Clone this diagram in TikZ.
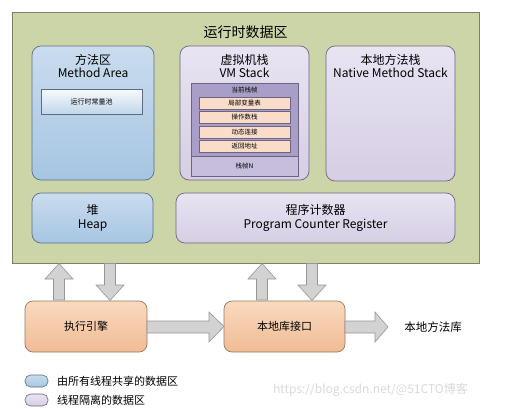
\documentclass[tikz,border=0pt]{standalone}
\usepackage{fontspec}
\setmainfont{Noto Sans CJK SC}
\definecolor{gbg}{RGB}{204,213,168}
\definecolor{gbd}{RGB}{120,130,100}
\definecolor{bluet}{RGB}{202,220,238}
\definecolor{blueb}{RGB}{166,197,226}
\definecolor{blued}{RGB}{90,110,140}
\definecolor{purt}{RGB}{232,228,242}
\definecolor{purb}{RGB}{214,206,228}
\definecolor{purd}{RGB}{110,100,130}
\definecolor{frame}{RGB}{168,158,200}
\definecolor{framel}{RGB}{198,190,220}
\definecolor{itemf}{RGB}{250,221,200}
\definecolor{oranget}{RGB}{250,218,192}
\definecolor{orangeb}{RGB}{240,188,148}
\definecolor{oranged}{RGB}{150,120,100}
\definecolor{arrf}{RGB}{210,210,210}
\definecolor{arrd}{RGB}{150,150,150}
\begin{document}
\begin{tikzpicture}[x=1pt,y=-1pt,
  every node/.style={inner sep=0pt,outer sep=0pt},
  sharedbox/.style={draw=blued,line width=0.7pt,rounded corners=9pt,top color=bluet,bottom color=blueb,anchor=north west},
  privbox/.style={draw=purd,line width=0.7pt,rounded corners=9pt,top color=purt,bottom color=purb,anchor=north west},
  enginebox/.style={draw=oranged,line width=0.7pt,rounded corners=8pt,top color=oranget,bottom color=orangeb,anchor=north west},
  itembox/.style={draw=purd,line width=0.5pt,fill=itemf,anchor=north west,minimum width=91pt,minimum height=12pt,font=\fontsize{6.5}{7}\selectfont},
  head/.style={align=center,font=\fontsize{12}{13.5}\selectfont},
  barrow/.style={draw=arrd,fill=arrf,line width=0.6pt,line join=miter}]
\useasboundingbox (0,0) rectangle (529,408);
% green runtime area
\node[draw=gbd,fill=gbg,line width=0.7pt,anchor=north west,minimum width=467pt,minimum height=251pt] (rt) at (12,12) {};
\node[font=\fontsize{14}{15}\selectfont] (rtt) at (245.5,32) {运行时数据区};
% method area
\node[sharedbox,minimum width=122pt,minimum height=134pt] (ma) at (32,46) {};
\node[head] (mat) at (93,66) {方法区\\Method Area};
\node[draw=blued,line width=0.6pt,top color=white!85!bluet,bottom color=blueb!70!white,anchor=north west,minimum width=101pt,minimum height=25pt] (pool) at (41,89) {};
\node[font=\fontsize{7}{8}\selectfont] at (pool.center) {运行时常量池};
% VM stack
\node[privbox,minimum width=129pt,minimum height=134pt] (vm) at (180,46) {};
\node[head] (vmt) at (244.5,66) {虚拟机栈\\VM Stack};
\node[draw=purd,line width=0.6pt,fill=framel,anchor=north west,minimum width=107pt,minimum height=93pt] (fr) at (191,83) {};
\fill[frame] (191.3,83.3) rectangle (297.7,156);
\draw[purd,line width=0.6pt] (191,156) -- (298,156);
\draw[purd,line width=0.6pt] (191,83) rectangle (298,176);
\node[font=\fontsize{6.5}{7}\selectfont] (cur) at (244.5,90.5) {当前栈帧};
\node[itembox] (i1) at (199,97) {局部变量表};
\node[itembox] (i2) at (199,111.5) {操作数栈};
\node[itembox] (i3) at (199,126) {动态连接};
\node[itembox] (i4) at (199,140.5) {返回地址};
\node[font=\fontsize{6.5}{7}\selectfont] (sn) at (244.5,166) {栈帧N};
% native method stack
\node[privbox,minimum width=129pt,minimum height=135pt] (nm) at (326,46) {};
\node[head] (nmt) at (390.5,66) {本地方法栈\\Native Method Stack};
% heap
\node[sharedbox,minimum width=121pt,minimum height=50pt] (heap) at (32,193) {};
\node[head] at (heap.center) {堆\\Heap};
% PC register
\node[privbox,minimum width=279pt,minimum height=50pt] (pc) at (176,193) {};
\node[head] at (pc.center) {程序计数器\\Program Counter Register};
% engine boxes
\node[enginebox,minimum width=122pt,minimum height=51pt] (ee) at (25,301) {};
\node[font=\fontsize{11}{12}\selectfont] at (ee.center) {执行引擎};
\node[enginebox,minimum width=121pt,minimum height=51pt] (ni) at (224,301) {};
\node[font=\fontsize{11}{12}\selectfont] at (ni.center) {本地库接口};
\node[font=\fontsize{11.5}{12}\selectfont] (nl) at (433,327) {本地方法库};
% vertical block arrows
\newcommand\uparr[1]{\draw[barrow] (#1-5.5,300) -- (#1-5.5,279) -- (#1-14,279) -- (#1,263.5) -- (#1+14,279) -- (#1+5.5,279) -- (#1+5.5,300) -- cycle;}
\newcommand\dnarr[1]{\draw[barrow] (#1-5.5,263.5) -- (#1-5.5,285) -- (#1-14,285) -- (#1,300.5) -- (#1+14,285) -- (#1+5.5,285) -- (#1+5.5,263.5) -- cycle;}
\uparr{59}
\dnarr{110}
\uparr{262}
\dnarr{312}
% horizontal block arrows
\draw[barrow] (ee.east |- 0,321) -- (209,321) -- (209,312) -- (ni.west) -- (209,342) -- (209,333) -- (ee.east |- 0,333) -- cycle;
\draw[barrow] (ni.east |- 0,321) -- (375,321) -- (375,312) -- (388,327) -- (375,342) -- (375,333) -- (ni.east |- 0,333) -- cycle;
% legend
\node[draw=blued,line width=0.6pt,rounded corners=5.5pt,top color=bluet,bottom color=blueb,anchor=north west,minimum width=23pt,minimum height=12pt] (lg1) at (25,375) {};
\node[font=\fontsize{11}{12}\selectfont,anchor=west] at (57,381) {由所有线程共享的数据区};
\node[draw=purd,line width=0.6pt,rounded corners=5.5pt,top color=purt,bottom color=purb,anchor=north west,minimum width=23pt,minimum height=12pt] (lg2) at (25,394) {};
\node[font=\fontsize{11}{12}\selectfont,anchor=west] at (57,400) {线程隔离的数据区};
% watermark
\node[font=\fontsize{12}{13}\selectfont,text=black!15,anchor=west] (wm) at (273,390) {https://blog.csdn.net/@51CTO博客};
\end{tikzpicture}
\end{document}
